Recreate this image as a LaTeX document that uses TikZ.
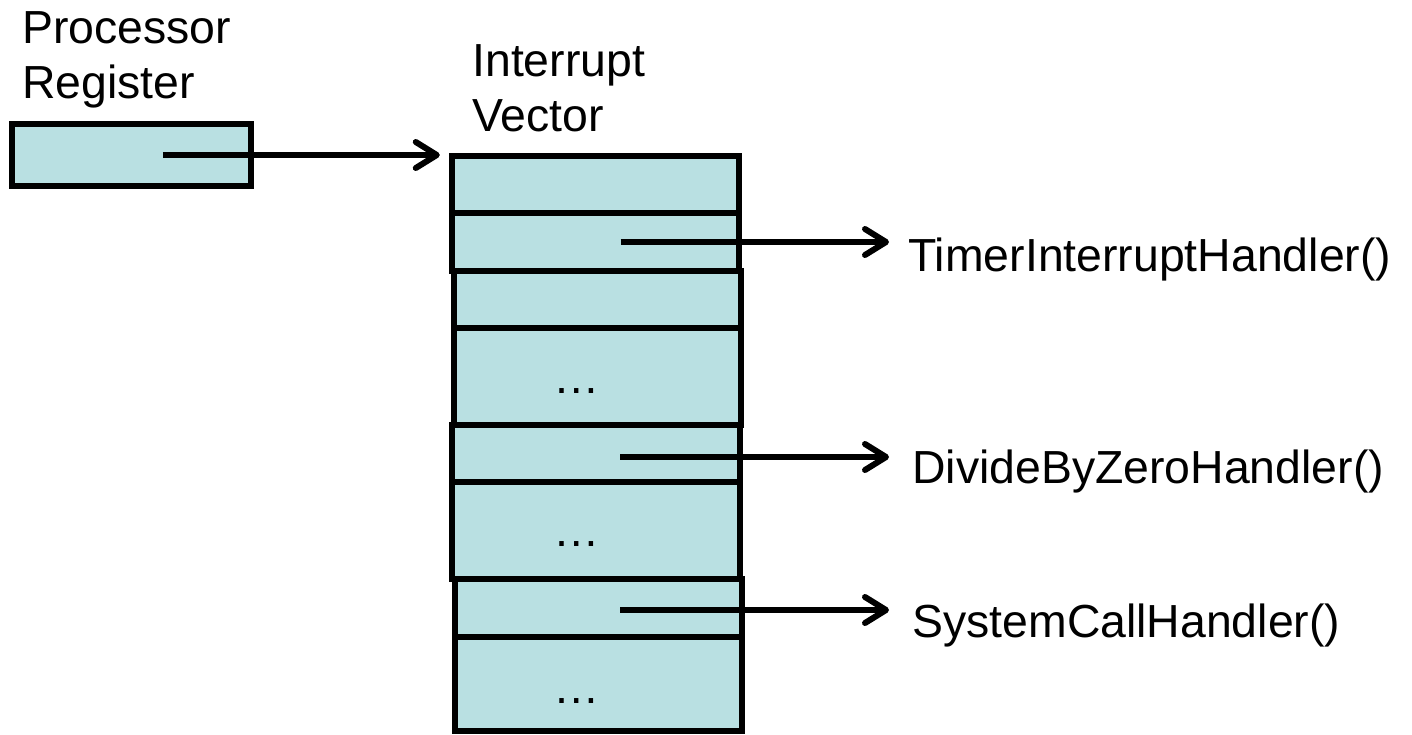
\documentclass[tikz,border=0pt]{standalone}
\usepackage{fontspec}
\setmainfont{Liberation Sans}
\usetikzlibrary{arrows.meta}
\definecolor{cellblue}{RGB}{185,224,226}

\begin{document}
\begin{tikzpicture}[x=0.02cm,y=-0.02cm,
    cell/.style={draw,fill=cellblue,line width=0.12cm,inner sep=0pt,minimum width=5.75cm},
    ptr/.style={line width=0.12cm,-{Straight Barb[length=0.42cm,width=0.52cm,round]}},
    lbl/.style={inner sep=0pt,font=\fontsize{26.4}{31.7}\selectfont},
    dots/.style={lbl,anchor=base}]
    \useasboundingbox (0,0) rectangle (1412,734);
    \node[cell,minimum width=4.78cm,minimum height=1.24cm] (reg) at (131.5,155) {};
    \node[cell,minimum height=1.14cm] (v1) at (595.5,184.5) {};
    \node[cell,minimum height=1.16cm] (v2) at (595.5,242) {};
    \node[cell,minimum height=1.14cm] (v3) at (597.5,299.5) {};
    \node[cell,minimum height=1.94cm] (v4) at (597.5,376.5) {};
    \node[cell,minimum height=1.14cm] (v5) at (596,453.5) {};
    \node[cell,minimum height=1.94cm] (v6) at (596,530.5) {};
    \node[cell,minimum height=1.16cm] (v7) at (598.5,608) {};
    \node[cell,minimum height=1.88cm] (v8) at (598.5,684) {};
    \node[dots] (d4) at (577,393) {…};
    \node[dots] (d6) at (577,546) {…};
    \node[dots] (d8) at (577,703) {…};
    \node[lbl,align=left,anchor=north west] (regtxt) at (22,11) {Processor\\Register};
    \node[lbl,align=left,anchor=north west] (vectxt) at (472,44) {Interrupt\\Vector};
    \node[lbl,anchor=base west] (timer) at (908,271) {TimerInterruptHandler()};
    \node[lbl,anchor=base west] (divide) at (912,483) {DivideByZeroHandler()};
    \node[lbl,anchor=base west] (syscall) at (912,637) {SystemCallHandler()};
    \draw[ptr] ([xshift=0.63cm]reg.center) -- ([xshift=-0.18cm]reg.center -| v1.west);
    \draw[ptr] ([xshift=0.5cm]v2.center) -- ([xshift=-0.38cm]v2.center -| timer.west);
    \draw[ptr] ([xshift=0.48cm,yshift=-0.07cm]v5.center) -- ([xshift=-0.46cm,yshift=-0.07cm]v5.center -| divide.west);
    \draw[ptr] ([xshift=0.43cm,yshift=-0.04cm]v7.center) -- ([xshift=-0.46cm,yshift=-0.04cm]v7.center -| syscall.west);
\end{tikzpicture}
\end{document}
